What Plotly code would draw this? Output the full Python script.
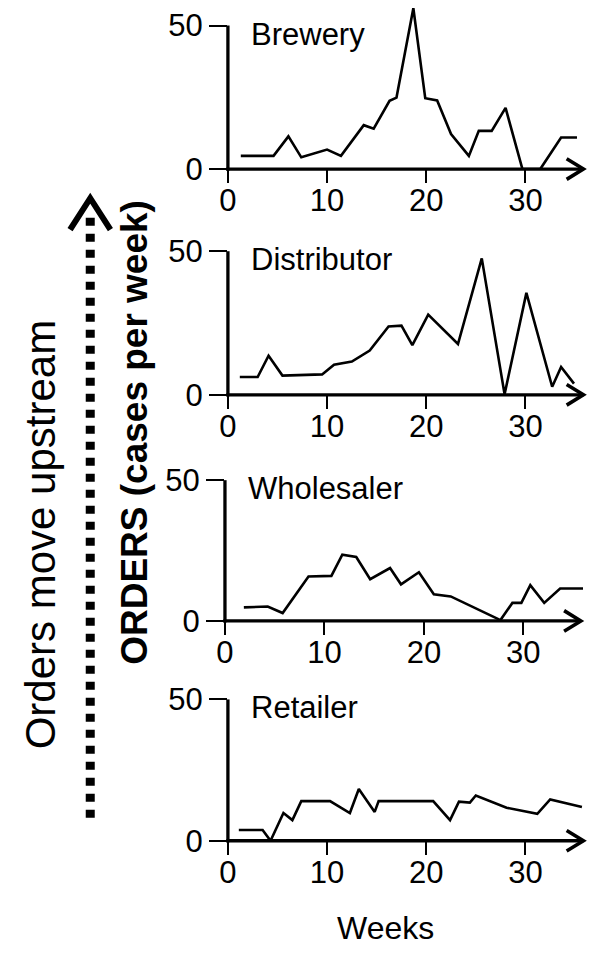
import plotly.graph_objects as go

# ---------------- data ----------------
brewery_weeks = [1.3, 4.6, 6.1, 7.4, 10.0, 11.4, 13.7, 14.7, 16.3, 17.0, 18.7, 19.9, 21.1, 22.5,
                 24.3, 25.3, 26.6, 28.0, 29.7, 31.5, 33.6, 35.2]
brewery_orders = [4.6, 4.6, 11.4, 4.1, 6.8, 4.6, 15.3, 14.1, 23.8, 24.9, 56.0, 24.7, 23.9, 12.2,
                  4.6, 13.3, 13.3, 21.3, 0.0, 0.0, 11.0, 11.0]

distributor_weeks = [1.2, 3.0, 4.1, 5.5, 9.5, 10.7, 12.5, 14.3, 16.2, 17.5, 18.6, 20.2, 23.2,
                     25.6, 27.9, 30.1, 32.7, 33.6, 34.9]
distributor_orders = [6.2, 6.2, 13.6, 6.7, 7.1, 10.5, 11.6, 15.4, 23.8, 24.1, 17.3, 27.9, 17.7,
                      47.5, 0.2, 35.5, 2.8, 9.7, 3.9]

wholesaler_weeks = [1.9, 4.3, 5.8, 8.4, 10.7, 11.8, 13.2, 14.6, 16.6, 17.7, 19.5, 21.0, 22.7,
                    27.7, 28.9, 29.8, 30.7, 32.1, 33.7, 36.0]
wholesaler_orders = [4.8, 5.1, 2.8, 15.8, 16.0, 23.5, 22.7, 14.8, 18.8, 13.0, 17.3, 9.5, 8.7,
                     0.3, 6.4, 6.4, 12.7, 6.4, 11.5, 11.5]

retailer_weeks = [1.1, 3.5, 4.3, 5.6, 6.5, 7.4, 10.3, 12.3, 13.2, 14.8, 15.2, 20.7, 22.4, 23.3,
                  24.4, 25.0, 28.1, 31.2, 32.5, 35.7]
retailer_orders = [3.8, 3.8, 0.0, 9.8, 7.3, 14.0, 14.0, 9.8, 18.3, 10.2, 14.0, 14.0, 7.3, 13.8,
                   13.5, 16.0, 11.7, 9.5, 14.6, 11.9]

panel_names = ["Brewery", "Distributor", "Wholesaler", "Retailer"]
x_ticks = [0, 10, 20, 30]
y_ticks = [0, 50]
x_label = "Weeks"
y_label = "<b>ORDERS (cases per week)</b>"
side_label = "Orders move upstream"

series = [
    (brewery_weeks, brewery_orders),
    (distributor_weeks, distributor_orders),
    (wholesaler_weeks, wholesaler_orders),
    (retailer_weeks, retailer_orders),
]

# ---------------- layout geometry (pixels) ----------------
W, H = 590, 966
FONT = "Liberation Sans, Arial, Helvetica, sans-serif"
X_MAX = 36.4
Y_MAX = 57
AXIS_TOP = 50
# origin x px, px per week, origin y px, px per unit, arrow tip x px
geom = [
    dict(x0=222.3, sx=10.07, y0=172.3, sy=2.926, tip=583.3),
    dict(x0=222.3, sx=10.07, y0=402.3, sy=2.926, tip=583.3),
    dict(x0=219.3, sx=10.10, y0=632.7, sy=2.868, tip=580.7),
    dict(x0=222.3, sx=10.07, y0=856.7, sy=2.880, tip=583.3),
]


def px(xp):
    return xp / W


def py(yp):
    return 1 - yp / H


fig = go.Figure()
shapes = []
annotations = []
layout_axes = {}

for i, ((wk, val), g, name) in enumerate(zip(series, geom, panel_names)):
    n = "" if i == 0 else str(i + 1)
    xa, ya = "x" + n, "y" + n
    fig.add_trace(go.Scatter(x=wk, y=val, mode="lines", xaxis=xa, yaxis=ya,
                             line=dict(color="black", width=2.6), showlegend=False,
                             hoverinfo="skip"))
    xdom = [px(g["x0"]), px(g["x0"] + X_MAX * g["sx"])]
    ydom = [py(g["y0"]), py(g["y0"] - Y_MAX * g["sy"])]
    layout_axes["xaxis" + n] = dict(domain=xdom, range=[0, X_MAX], anchor=ya,
                                    tickvals=x_ticks, ticks="outside", ticklen=13,
                                    tickwidth=1.5, tickcolor="black", showline=False,
                                    showgrid=False, zeroline=False, ticklabelstandoff=-9,
                                    tickfont=dict(family=FONT, size=31, color="black"))
    layout_axes["yaxis" + n] = dict(domain=ydom, range=[0, Y_MAX], anchor=xa,
                                    tickvals=y_ticks, ticks="outside", ticklen=18,
                                    tickwidth=1.5, tickcolor="black", showline=False,
                                    showgrid=False, zeroline=False,
                                    tickfont=dict(family=FONT, size=31, color="black"))
    # y axis line (0..50)
    top = g["y0"] - AXIS_TOP * g["sy"]
    shapes.append(dict(type="line", xref="paper", yref="paper",
                       x0=px(g["x0"]), x1=px(g["x0"]), y0=py(g["y0"] + 1.6), y1=py(top),
                       line=dict(color="black", width=3.3), layer="above"))
    # x axis line with open arrow head
    shapes.append(dict(type="line", xref="paper", yref="paper",
                       x0=px(g["x0"] - 1.6), x1=px(g["tip"]), y0=py(g["y0"]), y1=py(g["y0"]),
                       line=dict(color="black", width=3.3), layer="above"))
    shapes.append(dict(type="path", xref="paper", yref="paper",
                       path="M{},{} L{},{} L{},{}".format(
                           px(g["tip"] - 17), py(g["y0"] - 10.5),
                           px(g["tip"]), py(g["y0"]),
                           px(g["tip"] - 17), py(g["y0"] + 10.5)),
                       line=dict(color="black", width=3.6), layer="above"))
    annotations.append(dict(x=2.15, y=47, xref=xa, yref=ya, text=name, showarrow=False,
                            xanchor="left", yanchor="middle",
                            font=dict(family=FONT, size=31, color="black")))

# bottom x label
annotations.append(dict(x=px(382.5), y=py(946), xref="paper", yref="paper", text=x_label,
                        showarrow=False, xanchor="center", yanchor="middle",
                        font=dict(family=FONT, size=32, color="black")))
# rotated labels
annotations.append(dict(x=px(128), y=py(441), xref="paper", yref="paper", text=y_label,
                        textangle=-90, showarrow=False, xanchor="center", yanchor="middle",
                        font=dict(family=FONT, size=37, color="black")))
annotations.append(dict(x=px(32), y=py(545), xref="paper", yref="paper", text=side_label,
                        textangle=-90, showarrow=False, xanchor="center", yanchor="middle",
                        font=dict(family=FONT, size=42, color="black")))

# dotted upstream arrow
shapes.append(dict(type="line", xref="paper", yref="paper", x0=px(82.5), x1=px(82.5),
                   y0=py(222), y1=py(838), line=dict(color="black", width=9, dash="8px,8px")))
shapes.append(dict(type="path", xref="paper", yref="paper",
                   path="M{},{} L{},{} L{},{}".format(px(62), py(234), px(82.5), py(202),
                                                      px(103), py(234)),
                   line=dict(color="black", width=6)))

fig.update_layout(width=W, height=H, margin=dict(l=0, r=0, t=0, b=0),
                  paper_bgcolor="white", plot_bgcolor="white",
                  shapes=shapes, annotations=annotations, showlegend=False, **layout_axes)

fig.write_html("out.html", config={"displayModeBar": False},
               post_script="document.body.style.margin='0px';document.body.style.overflow='hidden';")
